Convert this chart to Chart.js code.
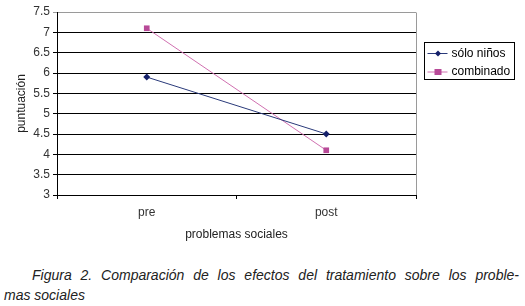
<!DOCTYPE html>
<html>
<head>
<meta charset="utf-8">
<script src="https://cdn.jsdelivr.net/npm/chart.js@4"></script>
<style>
  html, body { margin: 0; padding: 0; background: #fff; }
  #wrap { position: relative; width: 525px; height: 306px; }
  #chartBox { position: absolute; left: 0; top: 0; width: 525px; height: 250px; }
  #caption {
    position: absolute; left: 4px; top: 265px; width: 515px;
    font: italic 14px "Liberation Sans", Arial, sans-serif;
    line-height: 20px; color: #222;
  }
  #caption .l1 { text-indent: 28px; text-align: justify; text-align-last: justify; }
</style>
</head>
<body>
<div id="wrap">
  <div id="chartBox"><canvas id="chart"></canvas></div>
  <div id="caption">
    <div class="l1">Figura 2. Comparación de los efectos del tratamiento sobre los proble-</div>
    <div>mas sociales</div>
  </div>
</div>
<script>
// Data
const categories = ['pre', 'post'];
const soloNinos = [5.9, 4.5];
const combinado = [7.1, 4.1];
const seriesNames = ['sólo niños', 'combinado'];
const yMin = 3, yMax = 7.5, yStep = 0.5;

const font = { family: '"Liberation Sans", Arial, sans-serif', size: 12 };

// Plot border (top/right grey) and boxed legend like the original
const frameAndLegend = {
  id: 'frameAndLegend',
  afterDraw(chart) {
    const ctx = chart.ctx;
    const a = chart.chartArea;
    ctx.save();
    ctx.strokeStyle = '#9a9a9a';
    ctx.lineWidth = 1;
    ctx.beginPath();
    ctx.moveTo(Math.round(a.right) + 0.5, a.bottom);
    ctx.lineTo(Math.round(a.right) + 0.5, Math.round(a.top) + 0.5);
    ctx.stroke();

    // legend
    const lx = Math.round(a.right) + 8.5, ly = 42.5, lw = 90, lh = 37;
    ctx.strokeStyle = '#000';
    ctx.strokeRect(lx, ly, lw, lh);
    ctx.font = '12px "Liberation Sans", Arial, sans-serif';
    ctx.textBaseline = 'middle';
    chart.data.datasets.forEach((ds, i) => {
      const y = ly + 11 + i * 18.5;
      ctx.strokeStyle = ds.borderColor;
      ctx.beginPath();
      ctx.moveTo(lx + 3, y);
      ctx.lineTo(lx + 23, y);
      ctx.stroke();
      ctx.fillStyle = ds.pointBackgroundColor;
      const mx = lx + 13.5;
      if (ds.pointStyle === 'rectRot') {
        ctx.beginPath();
        ctx.moveTo(mx, y - 3); ctx.lineTo(mx + 3, y); ctx.lineTo(mx, y + 3); ctx.lineTo(mx - 3, y);
        ctx.closePath(); ctx.fill();
      } else {
        ctx.fillRect(mx - 3.5, y - 3, 7, 6);
      }
      ctx.fillStyle = '#000';
      ctx.fillText(ds.label, lx + 27, y);
    });
    ctx.restore();
  }
};

new Chart(document.getElementById('chart'), {
  type: 'line',
  data: {
    labels: categories,
    datasets: [
      {
        label: seriesNames[0], data: soloNinos,
        borderColor: '#2a3a7a', borderWidth: 1,
        pointStyle: 'rectRot', pointRadius: 3.5,
        pointBackgroundColor: '#14206a', pointBorderColor: '#14206a', pointBorderWidth: 0
      },
      {
        label: seriesNames[1], data: combinado,
        borderColor: '#d070b0', borderWidth: 1,
        pointStyle: 'rect', pointRadius: 4,
        pointBackgroundColor: '#b84a98', pointBorderColor: '#b84a98', pointBorderWidth: 0
      }
    ]
  },
  options: {
    responsive: true,
    maintainAspectRatio: false,
    animation: false,
    layout: { padding: { top: 12, right: 109, bottom: 8, left: 0 } },
    plugins: { legend: { display: false }, tooltip: { enabled: false } },
    scales: {
      x: {
        offset: true,
        grid: { offset: true, drawOnChartArea: false, color: '#000', tickLength: 4 },
        border: { color: '#000' },
        ticks: { font: font, color: '#333', padding: 6 },
        title: { display: true, text: 'problemas sociales', font: font, color: '#222', padding: { top: 3, bottom: 0 } },
        afterFit: s => { s.height = 47; }
      },
      y: {
        min: yMin, max: yMax,
        ticks: { stepSize: yStep, font: font, color: '#333', padding: 3, callback: v => String(v) },
        grid: {
          color: c => c.tick && c.tick.value === yMax ? '#9a9a9a' : '#000',
          tickLength: 4
        },
        border: { color: '#000' },
        title: { display: true, text: 'puntuación', font: font, color: '#222', padding: { top: 14, bottom: 0 } },
        afterFit: s => { s.width = 57; }
      }
    }
  },
  plugins: [frameAndLegend]
});
</script>
</body>
</html>
